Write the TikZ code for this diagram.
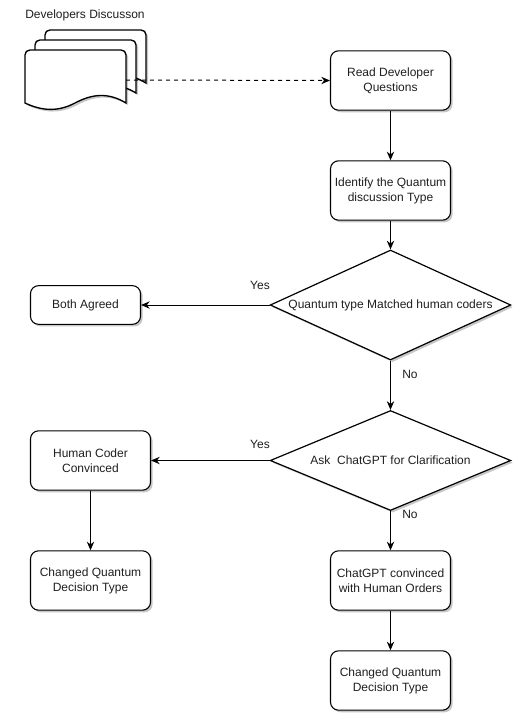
\documentclass[tikz,border=0pt]{standalone}
\usepackage{fontspec}
\setmainfont{Liberation Sans}
\usetikzlibrary{shapes.geometric,arrows.meta,shadows}
\begin{document}
\begin{tikzpicture}[x=0.75pt,y=-0.75pt,
 every node/.style={font=\fontsize{9pt}{11.2pt}\selectfont,align=center,text=black!88},
 soft/.style={drop shadow={shadow xshift=1.6pt,shadow yshift=-1.6pt,fill=black,opacity=.22}},
 box/.style={draw=black,fill=white,rounded corners=6pt,minimum width=90pt,minimum height=44.5pt,inner sep=0pt,line width=0.8pt,soft},
 dec/.style={draw=black,fill=white,diamond,aspect=2.18,minimum width=180.5pt,minimum height=82.5pt,inner sep=0pt,line width=0.9pt,soft},
 conn/.style={draw=black,line width=0.75pt,-{Stealth[length=6.5pt,width=5.5pt]}},
 lab/.style={inner sep=0pt}]
\useasboundingbox (0,0) rectangle (522,722);
\fill[white] (0,0) rectangle (522,722);
\coordinate (docs) at (126,80);
\foreach \dx/\dy in {20/-20,10/-10,0/0}{
 \draw[fill=white,line width=1pt,rounded corners=0pt,soft] (25+\dx,103+\dy) -- (25+\dx,55+\dy)
 .. controls (25+\dx,52+\dy) and (27+\dx,50+\dy) .. (30+\dx,50+\dy) -- (121+\dx,50+\dy)
 .. controls (124+\dx,50+\dy) and (126+\dx,52+\dy) .. (126+\dx,55+\dy) -- (126+\dx,103+\dy)
 .. controls (108+\dx,92+\dy) and (92+\dx,94+\dy) .. (75+\dx,103+\dy)
 .. controls (58+\dx,112+\dy) and (42+\dx,111+\dy) .. (25+\dx,103+\dy) -- cycle;
}
\node[box] (read) at (390.5,80.5) {Read Developer\\Questions};
\draw[conn,dashed] (docs) -- (read.west);
\node[box] (identify) at (390.5,190.5) {Identify the Quantum\\discussion Type};
\node[dec] (match) at (390.5,305) {Quantum type Matched human coders};
\node[box,minimum width=82.5pt,minimum height=29pt] (agreed) at (85.5,305) {Both Agreed};
\node[dec,minimum height=75pt] (ask) at (390.5,460.5) {Ask\ \ ChatGPT for Clarification};
\node[box] (human) at (90.5,460.5) {Human Coder\\Convinced};
\node[box] (chl) at (90.5,580.5) {Changed Quantum\\Decision Type};
\node[box] (conv) at (390.5,580.5) {ChatGPT convinced\\with Human Orders};
\node[box] (chr) at (390.5,680.5) {Changed Quantum\\Decision Type};
\node[lab] (t) at (85,15) {Developers Discusson};
\node[lab] (y1) at (260,285) {Yes};
\node[lab] (n1) at (410,374) {No};
\node[lab] (y2) at (260,444) {Yes};
\node[lab] (n2) at (410,514) {No};
\draw[conn] (read) -- (identify);
\draw[conn] (identify) -- (match);
\draw[conn] (match) -- (agreed);
\draw[conn] (match) -- (ask);
\draw[conn] (ask) -- (human);
\draw[conn] (human) -- (chl);
\draw[conn] (ask) -- (conv);
\draw[conn] (conv) -- (chr);
\end{tikzpicture}
\end{document}
